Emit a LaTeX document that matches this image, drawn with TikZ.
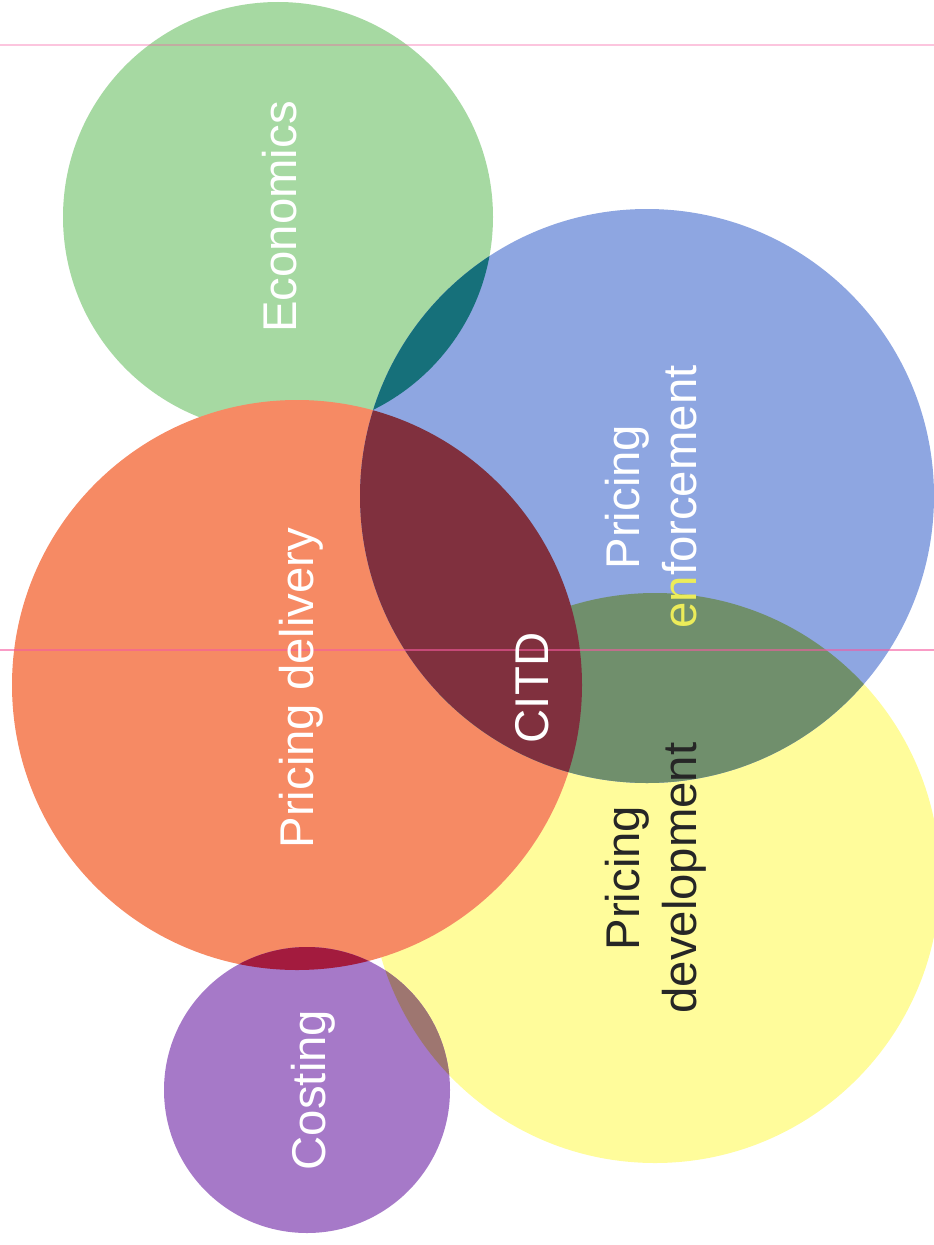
\documentclass[tikz,border=0pt]{standalone}
\usepackage{fontspec}
\setmainfont{Liberation Sans}
\usepackage{xcolor}
\definecolor{verde}{RGB}{166, 217, 162}
\definecolor{azul}{RGB}{142, 166, 225}
\definecolor{naranja}{RGB}{246, 138, 100}
\definecolor{amarillo}{RGB}{255, 252, 155}
\definecolor{morado}{RGB}{166, 121, 200}
\definecolor{verdeazul}{RGB}{22, 112, 122}
\definecolor{granate}{RGB}{128, 48, 62}
\definecolor{grisverde}{RGB}{112, 143, 108}
\definecolor{carmesi}{RGB}{163, 27, 62}
\definecolor{marron}{RGB}{158, 118, 112}
\definecolor{entexto}{RGB}{236, 236, 90}
\definecolor{rosa}{RGB}{245, 90, 160}

\begin{document}
\begin{tikzpicture}[x=0.75pt, y=-0.75pt,
  tag/.style={font=\fontsize{35.5}{43}\selectfont, text=white, rotate=90, align=center, inner sep=0pt},
  scanline/.style={rosa, line width=1.5pt}
]
  \useasboundingbox (0,0) rectangle (934,1245);

  % circles
  \fill[verde] (278,217) circle (215);
  \fill[amarillo] (655,878) circle (285);
  \fill[naranja] (297,685) circle (285);
  \fill[azul] (647,496) circle (287);
  \begin{scope}
    \clip (647,496) circle (287);
    \fill[verdeazul] (278,217) circle (215);
    \fill[grisverde] (655,878) circle (285);
    \fill[granate] (297,685) circle (285);
  \end{scope}
  \fill[morado] (307,1090) circle (143);
  \begin{scope}
    \clip (307,1090) circle (143);
    \fill[marron] (655,878) circle (285);
    \fill[carmesi] (297,685) circle (285);
  \end{scope}

  % scan lines
  \draw[scanline, opacity=0.35] (0,45) -- (934,45);
  \draw[scanline, opacity=0.6] (0,650) -- (934,650);

  \node[tag] (econ) at (280,217) {Economics};
  \node[tag] (entrega) at (301,688) {Pricing delivery};
  \node[tag] (citd) at (532,688) {CITD};
  \node[tag] (control) at (651,497) {Pricing\\\textcolor{entexto}{en}forcement};
  \node[tag, text=black!85] (desarrollo) at (656,878) {Pricing\\development};
  \node[tag] (coste) at (313,1090) {Costing};
\end{tikzpicture}
\end{document}
